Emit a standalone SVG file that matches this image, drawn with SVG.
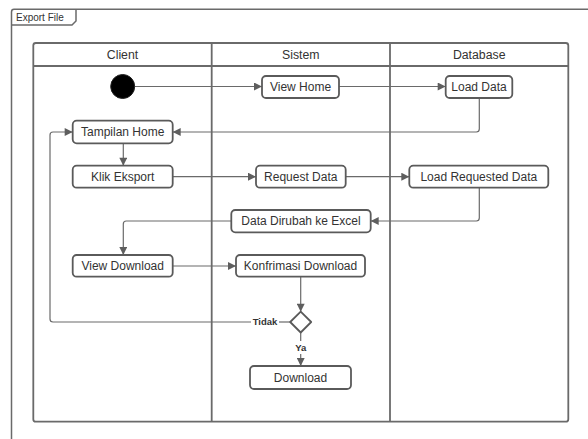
<svg xmlns="http://www.w3.org/2000/svg" width="588" height="439" viewBox="0 0 588 439">
  <defs>
    <marker id="arrow" viewBox="0 0 10 10" refX="10" refY="5" markerWidth="9" markerHeight="8" markerUnits="userSpaceOnUse" orient="auto">
      <path d="M0,0 L10,5 L0,10 Z" fill="#5e5e5e"/>
    </marker>
    <style>
      .frame { fill: none; stroke: #6a6a6a; stroke-width: 1.5; }
      .lane { fill: none; stroke: #6a6a6a; stroke-width: 1.8; }
      .node rect { fill: #ffffff; stroke: #5a5a5a; stroke-width: 1.8; }
      .label { font-family: "Liberation Sans", Arial, sans-serif; font-size: 12px; fill: #333333; text-anchor: middle; dominant-baseline: central; }
      .head { font-family: "Liberation Sans", Arial, sans-serif; font-size: 12.3px; fill: #333333; text-anchor: middle; dominant-baseline: central; }
      .guard { font-family: "Liberation Sans", Arial, sans-serif; font-size: 9.5px; font-weight: bold; fill: #333333; text-anchor: middle; dominant-baseline: central; }
      .edge { fill: none; stroke: #6a6a6a; stroke-width: 1.2; }
    </style>
  </defs>

  <rect width="588" height="439" fill="#ffffff"/>

  <!-- outer frame with name tab -->
  <g id="frame">
    <path class="frame" d="M11.5,439 L11.5,12 Q11.5,9.3 14,9.3 L600,9.3"/>
    <path class="frame" d="M11.5,25 L72,25 L76,21 L76,9.3"/>
    <text x="16" y="17" font-family="Liberation Sans, Arial, sans-serif" font-size="10px" fill="#333333" dominant-baseline="central">Export File</text>
  </g>

  <!-- swimlanes -->
  <g id="lanes">
    <rect class="lane" x="33.3" y="43" width="535" height="378.7" rx="2.5"/>
    <line class="lane" x1="33.3" y1="66" x2="568.3" y2="66"/>
    <line class="lane" x1="211.7" y1="43" x2="211.7" y2="421.7"/>
    <line class="lane" x1="390" y1="43" x2="390" y2="421.7"/>
    <text class="head" x="122.5" y="55">Client</text>
    <text class="head" x="300.8" y="55">Sistem</text>
    <text class="head" x="479.2" y="55">Database</text>
  </g>

  <!-- connectors -->
  <g id="connectors">
    <path class="edge" d="M134.5,86.5 L262,86.5" marker-end="url(#arrow)"/>
    <path class="edge" d="M339,86.5 L445.7,86.5" marker-end="url(#arrow)"/>
    <path class="edge" d="M479.3,98 L479.3,129 Q479.3,132 476.3,132 L172.7,132" marker-end="url(#arrow)"/>
    <path class="edge" d="M123.3,143.3 L123.3,165.7" marker-end="url(#arrow)"/>
    <path class="edge" d="M172.7,176.7 L256,176.7" marker-end="url(#arrow)"/>
    <path class="edge" d="M345.7,176.7 L409.3,176.7" marker-end="url(#arrow)"/>
    <path class="edge" d="M479.3,188 L479.3,218 Q479.3,221 476.3,221 L370.7,221" marker-end="url(#arrow)"/>
    <path class="edge" d="M231.3,221 L126.3,221 Q123.3,221 123.3,224 L123.3,255" marker-end="url(#arrow)"/>
    <path class="edge" d="M172.7,266 L236,266" marker-end="url(#arrow)"/>
    <path class="edge" d="M300.7,277 L300.7,311.7" marker-end="url(#arrow)"/>
    <path class="edge" d="M290.2,322 L279,322"/>
    <path class="edge" d="M251,322 L53,322 Q50,322 50,319 L50,135 Q50,132 53,132 L72.7,132" marker-end="url(#arrow)"/>
    <text class="guard" x="265" y="321.5">Tidak</text>
    <path class="edge" d="M300.7,332.5 L300.7,341"/>
    <path class="edge" d="M300.7,354 L300.7,366" marker-end="url(#arrow)"/>
    <text class="guard" x="300.7" y="347.8">Ya</text>
  </g>

  <!-- nodes -->
  <g id="start" class="node">
    <circle cx="122.7" cy="86.5" r="12" fill="#000000" stroke="#222222" stroke-width="1"/>
  </g>
  <g id="view-home" class="node">
    <rect x="262" y="76" width="77" height="22" rx="4"/>
    <text class="label" x="300.5" y="87">View Home</text>
  </g>
  <g id="load-data" class="node">
    <rect x="445.7" y="76" width="66.6" height="22" rx="4"/>
    <text class="label" x="479" y="87">Load Data</text>
  </g>
  <g id="tampilan-home" class="node">
    <rect x="72.7" y="120.7" width="100" height="22.6" rx="4"/>
    <text class="label" x="122.7" y="132">Tampilan Home</text>
  </g>
  <g id="klik-eksport" class="node">
    <rect x="72.7" y="165.7" width="100" height="22" rx="4"/>
    <text class="label" x="122.7" y="176.7">Klik Eksport</text>
  </g>
  <g id="request-data" class="node">
    <rect x="256" y="165.7" width="89.7" height="22" rx="4"/>
    <text class="label" x="300.8" y="176.7">Request Data</text>
  </g>
  <g id="load-requested-data" class="node">
    <rect x="409.3" y="165.7" width="139" height="22" rx="4"/>
    <text class="label" x="478.8" y="176.7">Load Requested Data</text>
  </g>
  <g id="data-dirubah" class="node">
    <rect x="231.3" y="210" width="139.4" height="22.3" rx="4"/>
    <text class="label" x="301" y="221">Data Dirubah ke Excel</text>
  </g>
  <g id="view-download" class="node">
    <rect x="72.7" y="255" width="100" height="21.7" rx="4"/>
    <text class="label" x="122.7" y="266">View Download</text>
  </g>
  <g id="konfirmasi-download" class="node">
    <rect x="236" y="255" width="129" height="21.7" rx="4"/>
    <text class="label" x="300.5" y="266">Konfrimasi Download</text>
  </g>
  <g id="decision" class="node">
    <path d="M300.7,311.7 L311.2,322 L300.7,332.5 L290.2,322 Z" fill="#ffffff" stroke="#5a5a5a" stroke-width="1.8" stroke-linejoin="round"/>
  </g>
  <g id="download" class="node">
    <rect x="250" y="366" width="101" height="23" rx="4"/>
    <text class="label" x="300.5" y="377.5">Download</text>
  </g>
</svg>
